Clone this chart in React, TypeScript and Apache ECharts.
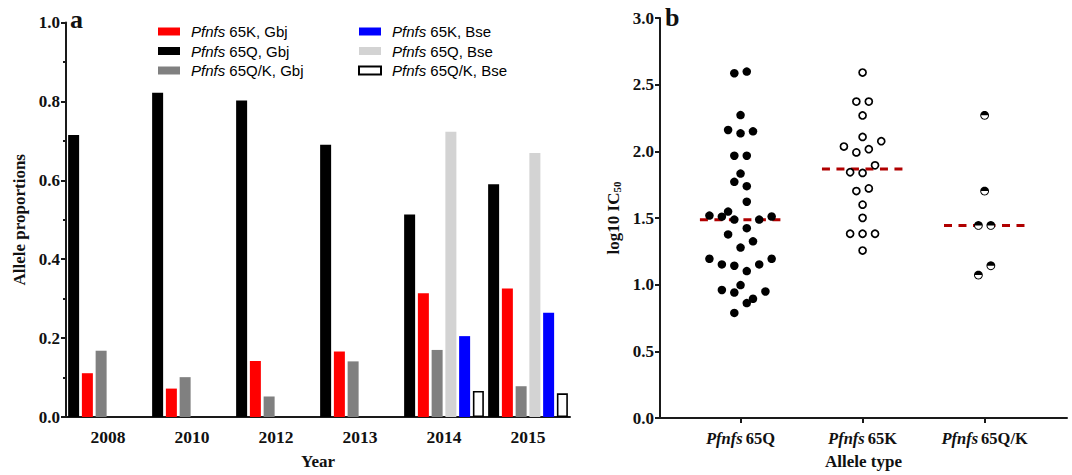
import React, { useEffect, useRef } from "react";
import * as echarts from "echarts";

// ---------- Panel a data ----------
const years = ["2008", "2010", "2012", "2013", "2014", "2015"];
const q65Gbj = [0.715, 0.822, 0.802, 0.69, 0.513, 0.59];
const k65Gbj = [0.111, 0.072, 0.142, 0.166, 0.314, 0.326];
const qk65Gbj = [0.168, 0.101, 0.052, 0.141, 0.17, 0.078];
const q65Bse = [null, null, null, null, 0.723, 0.669];
const k65Bse = [null, null, null, null, 0.205, 0.264];
const qk65Bse = [null, null, null, null, 0.066, 0.06];
const yTicksA = [0, 0.2, 0.4, 0.6, 0.8, 1.0];

// ---------- Panel b data ----------
const alleleTypes = ["65Q", "65K", "65Q/K"];
// [horizontal jitter step, log10 IC50]
const pts65Q = [
  [-1, 2.586], [1, 2.598], [0, 2.272], [-2, 2.16], [0, 2.135], [2, 2.15],
  [-1, 1.967], [1, 1.967], [0, 1.833], [-1, 1.771], [1, 1.739], [1, 1.622],
  [-5, 1.518], [-3, 1.51], [-2, 1.548], [-1, 1.488], [3, 1.488], [5, 1.511],
  [1, 1.424], [-2, 1.377], [2, 1.325], [0, 1.278], [-5, 1.194], [-3, 1.152],
  [-1, 1.142], [1, 1.102], [3, 1.152], [5, 1.194], [0, 0.997], [-3, 0.96],
  [-1, 0.941], [4, 0.949], [2, 0.894], [1, 0.862], [-1, 0.788],
];
const pts65K = [
  [0, 2.591], [-1, 2.373], [1, 2.373], [0, 2.269], [0, 2.108], [-3, 2.036],
  [3, 2.076], [-1, 1.992], [1, 2.016], [2, 1.895], [-2, 1.843], [0, 1.838],
  [-1, 1.702], [1, 1.722], [0, 1.6], [0, 1.501], [-2, 1.382], [0, 1.382],
  [2, 1.382], [0, 1.256],
];
const pts65QK = [
  [0, 2.27], [0, 1.702], [-1, 1.444], [1, 1.444], [-1, 1.072], [1, 1.142],
];
const medians = [1.486, 1.867, 1.444];
const yTicksB = [0, 0.5, 1.0, 1.5, 2.0, 2.5, 3.0];

const SERIF = "Liberation Serif";
const SANS = "Liberation Sans";
const AXIS_COLOR = "#1a1a1a";
const STEP = 0.051;

// symbol shape: top half filled, bottom half a ring (in a 20x20 box)
function halfFilledSymbol(): string {
  const pt = (r: number, deg: number) => {
    const a = (deg * Math.PI) / 180;
    return `${(10 + r * Math.cos(a)).toFixed(2)},${(10 - r * Math.sin(a)).toFixed(2)}`;
  };
  const segs: string[] = [];
  for (let d = 180; d >= 0; d -= 15) segs.push(pt(10, d));
  for (let d = -15; d >= -180; d -= 15) segs.push(pt(10, d));
  for (let d = -180; d <= 0; d += 15) segs.push(pt(7.8, d));
  return "path://M" + segs.join(" L") + " Z";
}
const HALF_SYMBOL = halfFilledSymbol();

const toXY = (group: number, pts: number[][]) =>
  pts.map(([s, v]) => [group + s * STEP, v]);

const legendFormatter = (name: string) => `{i|Pfnfs}{t| ${name.slice(7)}}`;
const legendRich = {
  i: { fontFamily: SANS, fontStyle: "italic", fontSize: 15, lineHeight: 16, color: "#000", padding: [0, 0, 0, 6] },
  t: { fontFamily: SANS, fontSize: 15, lineHeight: 16, color: "#000" },
};

function buildOption() {
  const barBase = { type: "bar", xAxisIndex: 0, yAxisIndex: 0, barWidth: 11, barGap: "25%" };
  return {
    animation: false,
    backgroundColor: "#ffffff",
    textStyle: { fontFamily: SERIF },
    grid: [
      { left: 66, width: 504, top: 22.5, bottom: 54, containLabel: false },
      { left: 660, right: 5, top: 18, bottom: 54.5, containLabel: false },
    ],
    legend: [
      {
        orient: "vertical", left: 153, top: 19, itemWidth: 22, itemHeight: 8, itemGap: 4.5,
        icon: "rect",
        data: ["Pfnfs  65K, Gbj", "Pfnfs  65Q, Gbj", "Pfnfs  65Q/K, Gbj"],
        formatter: legendFormatter, textStyle: { rich: legendRich },
      },
      {
        orient: "vertical", left: 353, top: 19, itemWidth: 22, itemHeight: 8, itemGap: 4.5,
        icon: "rect",
        data: ["Pfnfs  65K, Bse", "Pfnfs  65Q, Bse", "Pfnfs  65Q/K, Bse"],
        formatter: legendFormatter, textStyle: { rich: legendRich },
      },
    ],
    xAxis: [
      {
        type: "category", gridIndex: 0, data: years,
        name: "Year", nameLocation: "middle", nameGap: 36,
        nameTextStyle: { fontFamily: SERIF, fontWeight: "bold", fontSize: 17, color: "#111" },
        axisLine: { lineStyle: { color: AXIS_COLOR, width: 2 } },
        axisTick: { alignWithLabel: true, length: 5, lineStyle: { color: AXIS_COLOR, width: 2 } },
        axisLabel: { fontFamily: SERIF, fontWeight: "bold", fontSize: 17.5, color: "#111", margin: 11 },
        splitLine: { show: false },
      },
      {
        type: "value", gridIndex: 1, min: 0.34, max: 3.675,
        name: "Allele type", nameLocation: "middle", nameGap: 35,
        nameTextStyle: { fontFamily: SERIF, fontWeight: "bold", fontSize: 17, color: "#111" },
        axisLine: { lineStyle: { color: AXIS_COLOR, width: 2 } },
        axisTick: { length: 5, lineStyle: { color: AXIS_COLOR, width: 2 }, customValues: [1, 2, 3] },
        axisLabel: {
          customValues: [1, 2, 3],
          margin: 12,
          formatter: (v: number) => `{i|Pfnfs} {t|${alleleTypes[Math.round(v) - 1]}}`,
          rich: {
            i: { fontFamily: SERIF, fontStyle: "italic", fontWeight: "bold", fontSize: 16.5, color: "#111" },
            t: { fontFamily: SERIF, fontWeight: "bold", fontSize: 16.5, color: "#111" },
          },
        },
        splitLine: { show: false },
      },
    ],
    yAxis: [
      {
        type: "value", gridIndex: 0, min: 0, max: 1, interval: 0.2,
        name: "Allele proportions", nameLocation: "middle", nameGap: 38,
        nameTextStyle: { fontFamily: SERIF, fontWeight: "bold", fontSize: 17, color: "#111" },
        axisLine: { show: true, lineStyle: { color: AXIS_COLOR, width: 2 } },
        axisTick: { show: true, length: 5, lineStyle: { color: AXIS_COLOR, width: 2 } },
        minorTick: { show: true, splitNumber: 2, length: 3, lineStyle: { color: AXIS_COLOR, width: 2 } },
        axisLabel: {
          fontFamily: SERIF, fontWeight: "bold", fontSize: 17, color: "#111", margin: 6,
          customValues: yTicksA,
          formatter: (v: number) => v.toFixed(1),
        },
        splitLine: { show: false },
      },
      {
        type: "value", gridIndex: 1, min: 0, max: 3, interval: 0.5,
        name: "log10 IC{s|50}", nameLocation: "middle", nameGap: 38,
        nameTextStyle: {
          fontFamily: SERIF, fontWeight: "bold", fontSize: 17, color: "#111",
          rich: {
            s: { fontFamily: SERIF, fontWeight: "bold", fontSize: 11, color: "#111", verticalAlign: "bottom", padding: [6, 0, 0, 0] },
          },
        },
        axisLine: { show: true, lineStyle: { color: AXIS_COLOR, width: 2 } },
        axisTick: { show: true, length: 5, lineStyle: { color: AXIS_COLOR, width: 2 } },
        axisLabel: {
          fontFamily: SERIF, fontWeight: "bold", fontSize: 17, color: "#111", margin: 6,
          customValues: yTicksB,
          formatter: (v: number) => v.toFixed(1),
        },
        splitLine: { show: false },
      },
    ],
    graphic: [
      { type: "text", left: 70, top: 6, style: { text: "a", font: `bold 26px "${SERIF}"`, fill: "#111" } },
      { type: "text", left: 665, top: 4, style: { text: "b", font: `bold 26px "${SERIF}"`, fill: "#111" } },
    ],
    series: [
      { ...barBase, name: "Pfnfs  65Q, Gbj", data: q65Gbj, itemStyle: { color: "#000000" } },
      { ...barBase, name: "Pfnfs  65K, Gbj", data: k65Gbj, itemStyle: { color: "#ff0000" } },
      { ...barBase, name: "Pfnfs  65Q/K, Gbj", data: qk65Gbj, itemStyle: { color: "#808080" } },
      { ...barBase, name: "Pfnfs  65Q, Bse", data: q65Bse, itemStyle: { color: "#d3d3d3" } },
      { ...barBase, name: "Pfnfs  65K, Bse", data: k65Bse, itemStyle: { color: "#0000ff" } },
      { ...barBase, name: "Pfnfs  65Q/K, Bse", data: qk65Bse, itemStyle: { color: "#ffffff", borderColor: "#000", borderWidth: 1.6 } },
      ...medians.map((m, i) => ({
        type: "line", xAxisIndex: 1, yAxisIndex: 1, z: 1, symbol: "none", silent: true,
        data: [[i + 1 - 0.333, m], [i + 1 + 0.333, m]],
        lineStyle: { color: "#b00000", width: 3, type: [8, 6.5] },
      })),
      {
        type: "scatter", xAxisIndex: 1, yAxisIndex: 1, z: 3, symbol: "circle", symbolSize: 8.5,
        data: toXY(1, pts65Q), itemStyle: { color: "#000", opacity: 1 },
      },
      {
        type: "scatter", xAxisIndex: 1, yAxisIndex: 1, z: 3, symbol: "circle", symbolSize: 7,
        data: toXY(2, pts65K), itemStyle: { color: "#fff", borderColor: "#000", borderWidth: 1.7, opacity: 1 },
      },
      {
        type: "scatter", xAxisIndex: 1, yAxisIndex: 1, z: 3, symbol: "circle", symbolSize: 7.6,
        data: toXY(3, pts65QK), itemStyle: { color: "#fff", opacity: 1 },
      },
      {
        type: "scatter", xAxisIndex: 1, yAxisIndex: 1, z: 4, silent: true,
        symbol: HALF_SYMBOL, symbolSize: 8.8,
        data: toXY(3, pts65QK), itemStyle: { color: "#000", borderWidth: 0, opacity: 1 },
      },
    ],
  };
}

export default function App() {
  const ref = useRef<HTMLDivElement>(null);
  useEffect(() => {
    document.body.style.margin = "0";
    const chart = echarts.init(ref.current!, null, { renderer: "svg" });
    chart.setOption(buildOption() as any);
    return () => chart.dispose();
  }, []);
  return <div ref={ref} style={{ width: 1072, height: 475 }} />;
}
